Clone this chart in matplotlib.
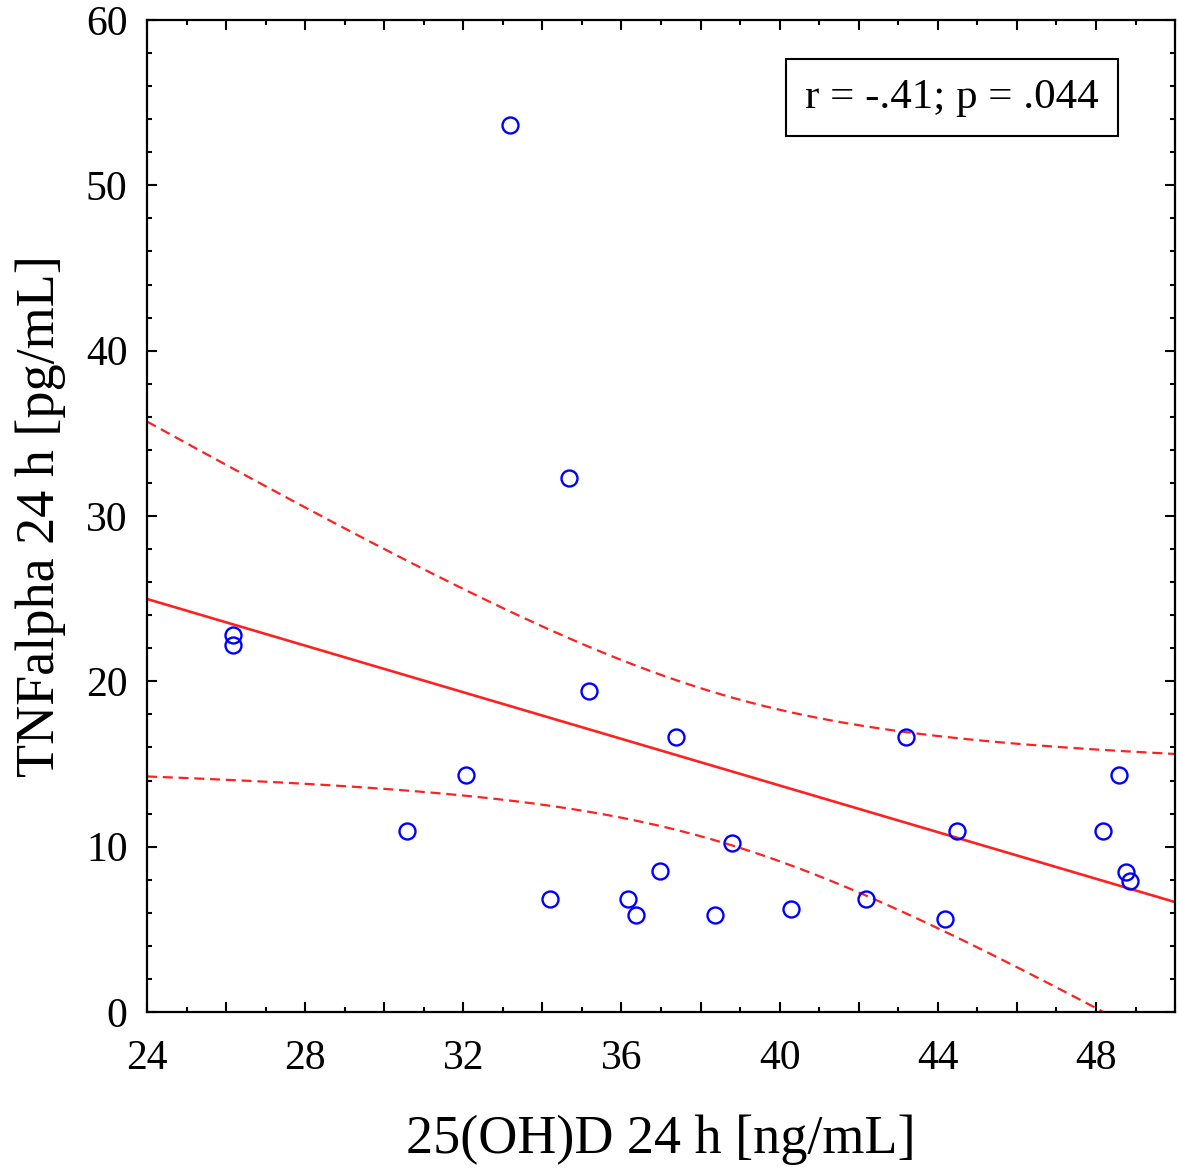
import numpy as np
import matplotlib
matplotlib.use("Agg")
import matplotlib.pyplot as plt
from matplotlib.ticker import MultipleLocator, FuncFormatter

x_vals = [26.17, 26.17, 30.57, 32.06, 33.19, 34.18, 34.68, 35.19, 36.17, 36.37, 36.98,
          37.38, 38.37, 38.80, 40.29, 42.18, 43.19, 44.18, 44.48, 48.19, 48.57, 48.77, 48.87]
y_vals = [22.8, 22.2, 10.95, 14.34, 53.66, 6.84, 32.3, 19.42, 6.84, 5.87, 8.53,
          16.64, 5.87, 10.22, 6.23, 6.84, 16.64, 5.63, 10.95, 10.95, 14.34, 8.47, 7.92]
# fitted line (value at x=24 and at x=50)
fit_x = [24, 50]
fit_y = [24.98, 6.65]
annot_text = "r = -.41; p = .044"
x_label = "25(OH)D 24 h [ng/mL]"
y_label = "TNFalpha 24 h [pg/mL]"
t_crit = 2.080

plt.rcParams['font.family'] = ['Liberation Serif', 'DejaVu Serif']

x = np.array(x_vals)
y = np.array(y_vals)
n = len(x)
slope = (fit_y[1] - fit_y[0]) / (fit_x[1] - fit_x[0])
intercept = fit_y[0] - slope * fit_x[0]
p_slope, p_int = np.polyfit(x, y, 1)
resid = y - (p_slope * x + p_int)
s = np.sqrt(np.sum(resid ** 2) / (n - 2))
xm = x.mean()
sxx = np.sum((x - xm) ** 2)

fig = plt.figure(figsize=(11.78, 11.75), dpi=100)
ax = fig.add_axes([0.1248, 0.1387, 0.9975 - 0.1248, 0.983 - 0.1387])

xx = np.linspace(24, 50, 300)
yy = slope * xx + intercept
se = s * np.sqrt(1.0 / n + (xx - xm) ** 2 / sxx)
ax.plot(xx, yy, color='#ff2020', lw=1.9, zorder=2)
ax.plot(xx, yy + t_crit * se, color='#ff2020', lw=1.6, ls=(0, (4.5, 2.6)), zorder=2)
ax.plot(xx, yy - t_crit * se, color='#ff2020', lw=1.6, ls=(0, (4.5, 2.6)), zorder=2)

ax.plot(x, y, 'o', mfc='none', mec='#0000ff', ms=11.5, mew=1.7, zorder=3)

ax.set_xlim(24, 50)
ax.set_ylim(0, 60)
ax.xaxis.set_major_locator(MultipleLocator(2))
ax.xaxis.set_minor_locator(MultipleLocator(1))
ax.xaxis.set_major_formatter(FuncFormatter(lambda v, p: f"{int(round(v))}" if int(round(v)) % 4 == 0 else ""))
ax.yaxis.set_major_locator(MultipleLocator(10))
ax.yaxis.set_minor_locator(MultipleLocator(2))
ax.tick_params(which='both', direction='in', top=True, right=True, width=1.5)
ax.tick_params(which='major', length=7, labelsize=30)
ax.tick_params(which='minor', length=3.5)
ax.tick_params(axis='x', which='major', pad=20)
ax.tick_params(axis='y', which='major', pad=14)
for sp in ax.spines.values():
    sp.set_linewidth(1.6)

ax.set_xlabel(x_label, fontsize=39, labelpad=26)
ax.set_ylabel(y_label, fontsize=39, labelpad=14)

ax.text(0.926, 0.922, annot_text, transform=ax.transAxes, ha='right', va='center', fontsize=31,
        bbox=dict(boxstyle='square,pad=0.45', fc='white', ec='black', lw=1.5))

fig.savefig("out.png", dpi=100)
